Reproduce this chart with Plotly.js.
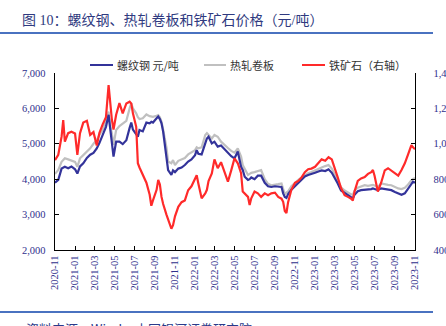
<!DOCTYPE html>
<html>
<head>
<meta charset="utf-8">
<script src="https://cdn.plot.ly/plotly-3.0.1.min.js"></script>
<style>
html,body{margin:0;padding:0;overflow:hidden;background:#fff;}
#chart{width:446px;height:326px;}
</style>
</head>
<body>
<div id="chart"></div>
<script>
const dates = [
'2020-11-01','2020-11-11','2020-11-21','2020-11-26','2020-12-01','2020-12-11','2020-12-21','2021-01-01','2021-01-08','2021-01-16',
'2021-01-26','2021-02-06','2021-02-16','2021-02-26','2021-03-08','2021-03-16','2021-03-26','2021-04-05','2021-04-13','2021-04-18',
'2021-04-23','2021-04-28','2021-05-06','2021-05-16','2021-05-26','2021-06-06','2021-06-16','2021-06-21','2021-06-26','2021-07-06',
'2021-07-11','2021-07-16','2021-07-26','2021-08-06','2021-08-16','2021-08-21','2021-08-26','2021-09-06','2021-09-11','2021-09-16',
'2021-09-21','2021-09-26','2021-10-06','2021-10-11','2021-10-21','2021-10-26','2021-11-01','2021-11-11','2021-11-21','2021-12-01',
'2021-12-11','2021-12-21','2022-01-01','2022-01-06','2022-01-11','2022-01-21','2022-02-01','2022-02-06','2022-02-11','2022-02-21',
'2022-03-01','2022-03-11','2022-03-21','2022-04-01','2022-04-11','2022-04-21','2022-05-01','2022-05-11','2022-05-21','2022-05-26',
'2022-06-01','2022-06-11','2022-06-16','2022-06-21','2022-07-01','2022-07-11','2022-07-21','2022-08-01','2022-08-11','2022-08-21',
'2022-09-01','2022-09-11','2022-09-21','2022-09-26','2022-10-01','2022-10-06','2022-10-11','2022-10-21','2022-11-01','2022-11-11',
'2022-11-21','2022-12-01','2022-12-11','2022-12-21','2023-01-01','2023-01-11','2023-01-21','2023-02-01','2023-02-11','2023-02-21',
'2023-03-01','2023-03-11','2023-03-21','2023-04-01','2023-04-11','2023-04-21','2023-04-26','2023-05-01','2023-05-11','2023-05-21',
'2023-06-01','2023-06-11','2023-06-21','2023-06-26','2023-07-01','2023-07-06','2023-07-11','2023-07-21','2023-08-01','2023-08-11',
'2023-08-21','2023-09-01','2023-09-11','2023-09-21','2023-10-01','2023-10-11','2023-10-16','2023-10-21','2023-10-26','2023-11-01'
];

const rebar = [
3900,3980,4300,4330,4350,4310,4360,4280,4160,4360,
4450,4600,4690,4740,4870,5020,5250,5480,5820,5450,
5150,4640,5060,5060,4990,5100,5450,5600,5400,5250,
5200,5390,5350,5600,5580,5620,5600,5720,5770,5700,
5580,5340,4700,4260,4120,4250,4200,4300,4330,4400,
4500,4560,4680,4820,4720,4700,5010,5150,5200,5010,
5060,4920,4950,4840,4730,4650,4590,4780,4350,4260,
4070,3980,4000,4050,4000,4100,4100,3900,3800,3780,
3800,3790,3780,3600,3500,3470,3580,3700,3800,3900,
4000,4080,4120,4140,4180,4220,4250,4230,4280,4180,
4050,3880,3680,3620,3560,3500,3460,3560,3660,3690,
3700,3690,3720,3740,3720,3700,3690,3740,3720,3700,
3690,3640,3600,3560,3600,3740,3800,3860,3930,3900
];

const hrc = [
4150,4260,4490,4540,4590,4560,4520,4490,4350,4590,
4680,4780,4870,5000,5110,5250,5390,5670,5910,5500,
5300,4970,5390,5500,5580,5650,6000,6140,6000,5860,
5750,5700,5720,5830,5780,5770,5760,5790,5810,5750,
5620,5400,4900,4500,4450,4540,4400,4520,4560,4600,
4700,4750,4820,4900,4870,4900,5250,5300,5250,5150,
5250,5200,5060,4950,4880,4800,4750,4870,4640,4400,
4300,4120,4150,4180,4200,4220,4260,4000,3870,3830,
3840,3860,3880,3700,3570,3620,3660,3800,3900,3980,
4050,4120,4170,4200,4250,4300,4330,4370,4400,4300,
4150,3980,3770,3680,3620,3570,3560,3680,3760,3790,
3830,3810,3830,3840,3820,3800,3780,3880,3850,3840,
3830,3780,3740,3720,3760,3850,3920,3970,4010,4030
];

const ironOre = [
908,938,1040,1134,1012,1060,1068,1058,938,1060,
1120,1130,1050,1066,990,1060,1110,1150,1332,1230,
1136,1080,1164,1230,1172,1228,1238,1228,1172,1096,
890,866,820,780,712,650,680,740,796,770,
700,660,600,574,520,540,590,644,670,680,
738,760,806,822,776,692,720,740,790,832,
912,862,896,840,786,850,918,890,834,730,
720,700,654,692,730,720,700,720,710,720,
724,700,690,672,620,608,670,740,780,790,
810,840,856,860,870,890,912,904,924,912,
870,810,750,710,700,690,680,730,790,804,
812,830,840,852,820,780,730,780,850,862,
850,832,820,852,890,940,964,992,980,970
];

const seriesNames = ['螺纹钢 元/吨', '热轧卷板', '铁矿石（右轴）'];
const seriesColors = ['#33339a', '#c0c0c0', '#ff2a2a'];
const titleText = '图 10：螺纹钢、热轧卷板和铁矿石价格（元/吨）';
const sourceText = '资料来源：Wind，中国银河证券研究院';

const tickFont = {family: 'Liberation Serif, Times New Roman, serif', size: 10.5, color: '#30308c'};

const traces = [
  {x: dates, y: hrc, type: 'scatter', mode: 'lines', name: seriesNames[1],
   line: {color: seriesColors[1], width: 2.2}, yaxis: 'y'},
  {x: dates, y: rebar, type: 'scatter', mode: 'lines', name: seriesNames[0],
   line: {color: seriesColors[0], width: 2.2}, yaxis: 'y'},
  {x: dates, y: ironOre, type: 'scatter', mode: 'lines', name: seriesNames[2],
   line: {color: seriesColors[2], width: 2.2}, yaxis: 'y2'}
];

// plot area: x 55..415, y 73..250 (px)
const W = 446, H = 326, L = 55, R = 31, T = 73, B = 76;
const pw = W - L - R, ph = H - T - B;
const px = v => (v - L) / pw;
const py = v => (H - B - v) / ph;

const legendLines = [
  {x0: 90, x1: 113, tx: 115, color: seriesColors[0], text: seriesNames[0]},
  {x0: 204, x1: 226, tx: 228, color: seriesColors[1], text: seriesNames[1]},
  {x0: 302, x1: 325, tx: 327, color: seriesColors[2], text: seriesNames[2]}
];

const shapes = [
  {type: 'line', xref: 'paper', yref: 'paper', x0: px(0), x1: px(433), y0: py(33), y1: py(33),
   line: {color: '#4a72c0', width: 2.2}},
  {type: 'line', xref: 'paper', yref: 'paper', x0: px(0), x1: px(433), y0: py(312), y1: py(312),
   line: {color: '#4a72c0', width: 2.2}}
];
const annotations = [
  {xref: 'paper', yref: 'paper', x: px(24), y: py(317), xanchor: 'left', yanchor: 'top',
   text: sourceText, showarrow: false,
   font: {family: 'Noto Sans CJK SC, sans-serif', size: 13, color: '#2a3a8a'}}
];
legendLines.forEach(l => {
  shapes.push({type: 'line', xref: 'paper', yref: 'paper', x0: px(l.x0), x1: px(l.x1),
    y0: py(65), y1: py(65), line: {color: l.color, width: 2}});
  annotations.push({xref: 'paper', yref: 'paper', x: px(l.tx), y: py(65), xanchor: 'left', yanchor: 'middle',
    text: l.text, showarrow: false,
    font: {family: 'Noto Sans CJK SC, sans-serif', size: 11, color: '#333333'}});
});

const layout = {
  width: W, height: H,
  margin: {l: L, r: R, t: T, b: B, pad: 0},
  paper_bgcolor: '#ffffff', plot_bgcolor: '#ffffff',
  showlegend: false,
  title: {text: titleText, x: 22 / W, y: 1 - 20 / H, xref: 'container', yref: 'container',
    xanchor: 'left', yanchor: 'middle',
    font: {family: 'Liberation Serif, Noto Sans CJK SC, serif', size: 14, color: '#2f3a80'}},
  xaxis: {
    type: 'date', range: ['2020-11-01', '2023-11-01'],
    tick0: '2020-11-01', dtick: 'M2', tickformat: '%Y-%m', tickangle: -90,
    ticks: 'inside', ticklen: 4, tickcolor: '#000', tickwidth: 1,
    showline: true, linecolor: '#000', linewidth: 1.3, showgrid: false, zeroline: false,
    tickfont: tickFont, fixedrange: true
  },
  yaxis: {
    range: [2000, 7000], dtick: 1000, tickformat: ',d',
    ticks: 'inside', ticklen: 4, tickcolor: '#000', tickwidth: 1,
    showline: true, linecolor: '#000', linewidth: 1.3, showgrid: false, zeroline: false,
    tickfont: tickFont, ticklabelstandoff: 6
  },
  yaxis2: {
    range: [400, 1400], dtick: 200, tickformat: ',d',
    overlaying: 'y', side: 'right',
    ticks: 'inside', ticklen: 4, tickcolor: '#000', tickwidth: 1,
    showline: true, linecolor: '#000', linewidth: 1.3, showgrid: false, zeroline: false,
    tickfont: tickFont, ticklabelstandoff: 15
  },
  shapes: shapes,
  annotations: annotations
};

Plotly.newPlot('chart', traces, layout, {staticPlot: true, displayModeBar: false});
</script>
</body>
</html>
